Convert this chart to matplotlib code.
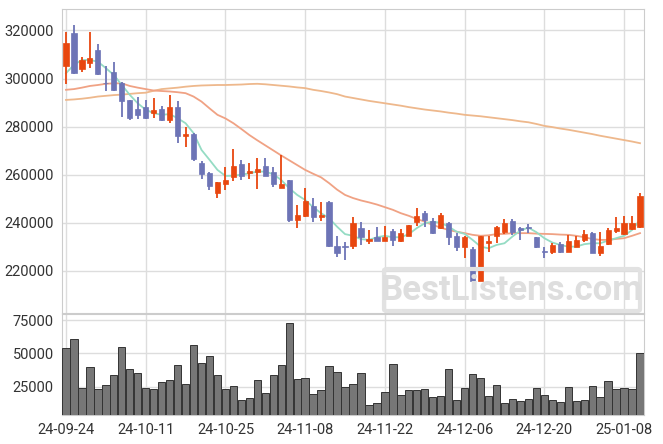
import numpy as np
import matplotlib
matplotlib.use("Agg")
import matplotlib.pyplot as plt
from matplotlib.patches import FancyBboxPatch

plt.rcParams['font.family'] = ['Roboto', 'DejaVu Sans']

DATES = ["24-09-24", "24-10-11", "24-10-25", "24-11-08",
         "24-11-22", "24-12-06", "24-12-20", "25-01-08"]
DATE_POS = [0, 10, 20, 30, 40, 50, 60, 70]

OPEN = [305400, 318800, 304000, 306600, 311900, 298300, 302500, 298300, 291100, 287400,
        288100, 285800, 287400, 282800, 288100, 276300, 277000, 264800, 260600, 252600,
        256200, 259200, 264500, 260600, 261200, 263700, 261200, 254600, 257800, 241200,
        242900, 247000, 242300, 248800, 230400, 230500, 230500, 237800, 232600, 234300,
        232600, 236600, 232600, 234700, 240500, 244000, 240800, 237800, 240100, 234600,
        229900, 229000, 216000, 231800, 234700, 236100, 240800, 237800, 238400, 234000,
        228300, 228000, 231200, 228000, 230100, 232900, 235900, 227600, 231100, 236800,
        235300, 237500, 238200]
HIGH = [319500, 322300, 309100, 319500, 314300, 305000, 306800, 298500, 291100, 292500,
        291100, 292100, 288600, 293100, 290700, 280000, 277300, 265500, 261300, 257100,
        263000, 270600, 266200, 264800, 266900, 266900, 263000, 268200, 258000, 247400,
        254400, 250200, 248600, 249100, 234600, 232200, 242300, 240300, 237000, 238200,
        238800, 237300, 237500, 239100, 246100, 245100, 241900, 244000, 240500, 235900,
        234600, 230100, 234600, 234600, 238600, 241600, 241500, 238400, 239400, 234200,
        230100, 231500, 232200, 235000, 234600, 237000, 236300, 236300, 237800, 242600,
        242900, 242900, 252300]
LOW = [297800, 302000, 302600, 304300, 301500, 294800, 294600, 284200, 282900, 283200,
       283100, 283500, 282500, 281400, 273100, 271400, 265900, 258100, 253700, 250200,
       253700, 257500, 257800, 258300, 254000, 259400, 254800, 254600, 240500, 237800,
       242600, 240500, 240800, 229900, 225700, 224600, 229100, 230800, 231100, 232400,
       232400, 230500, 232200, 234700, 238800, 238400, 235400, 237500, 230800, 228400,
       225300, 216000, 216000, 228000, 231500, 235300, 235000, 232900, 235700, 229400,
       225300, 227100, 227400, 227900, 230000, 232200, 227400, 226200, 230800, 235900,
       235000, 237000, 238000]
CLOSE = [314700, 302200, 307700, 308400, 301800, 298000, 295300, 290800, 283500, 285000,
         283700, 286700, 282800, 288100, 276300, 277000, 266400, 260300, 255100, 256900,
         257800, 263700, 259600, 261700, 262400, 259600, 256300, 256200, 241200, 243300,
         249100, 242600, 243300, 230400, 227600, 230100, 239800, 233900, 233300, 232600,
         234300, 232900, 235700, 239100, 242900, 241200, 235700, 243300, 234300, 230100,
         234000, 216000, 234600, 232500, 238400, 240100, 236100, 237200, 237700, 230100,
         227900, 230800, 228000, 232500, 232900, 235400, 227600, 230400, 237000, 238000,
         240100, 239800, 251200]

MA5 = [302200, 305700, 307700, 307700, 307000, 304300, 301500, 297300, 293200, 289700,
       287000, 285600, 284900, 285200, 283500, 281400, 277300, 270300, 266200, 262000,
       259500, 259600, 260000, 260600, 261300, 261300, 260200, 257800, 254400, 251600,
       249500, 246500, 244000, 241900, 238400, 235300, 234600, 233200, 232900, 234000,
       234600, 234000, 234000, 235300, 237800, 239800, 240500, 240000, 238400, 236300,
       235400, 232900, 230100, 229400, 230800, 231500, 234300, 236800, 238000, 236100,
       233600, 231800, 230800, 230100, 230100, 231100, 231500, 231500, 232600, 233600,
       234600, 237000, 241200]
MA20 = [295300, 295600, 296200, 296900, 297300, 297800, 298000, 298000, 296900, 296200,
        295600, 295000, 294800, 294600, 294300, 293900, 292500, 290400, 287600, 284900,
        283400, 281400, 279000, 276500, 274300, 272200, 270100, 268000, 266000, 264000,
        262000, 260400, 258900, 256500, 253800, 251600, 250300, 249300, 248500, 247600,
        246500, 245400, 244000, 242900, 241600, 240500, 239100, 238000, 237000, 236300,
        235700, 235000, 234600, 234800, 235300, 235400, 235700, 235700, 235700, 235500,
        235400, 235300, 235100, 235000, 234600, 234000, 233300, 232900, 232900, 233300,
        233600, 234600, 235700]
MA60 = [291100, 291300, 291600, 292000, 292500, 292800, 293100, 293300, 293600, 293900,
        294100, 294900, 295600, 295900, 296200, 296600, 296900, 297100, 297200, 297300,
        297300, 297400, 297500, 297700, 297800, 297600, 297300, 297000, 296700, 296300,
        296000, 295300, 294800, 294200, 293500, 292500, 291900, 291300, 290700, 290200,
        289700, 289200, 288700, 288100, 287600, 287100, 286700, 286300, 285800, 285400,
        284900, 284600, 284300, 283900, 283500, 283100, 282700, 282200, 281800, 281100,
        280300, 279800, 279200, 278700, 278100, 277500, 276900, 276200, 275600, 275000,
        274400, 273800, 273100]

VOLUME = [53800, 60500, 23800, 39600, 23000, 26000, 33500, 54500, 38000, 35000,
          23800, 23000, 28300, 29800, 41000, 26800, 56000, 42500, 47800, 33500,
          23000, 25300, 14800, 16300, 29800, 20000, 33500, 41000, 72500, 30500,
          31300, 19300, 22300, 40300, 36000, 24500, 26800, 35300, 11000, 12500,
          21000, 42000, 18800, 22500, 22500, 23000, 17300, 18000, 38300, 15000,
          24000, 34500, 31500, 18000, 26000, 12800, 15800, 14500, 15800, 24000,
          18800, 15000, 13500, 24800, 14300, 15000, 25500, 17300, 29300, 23300,
          23800, 23300, 50300]

UP_COLOR = "#e8470f"
DOWN_COLOR = "#6d74b6"
GRID = "#dddddd"
SPINE = "#cccccc"


def style_axis(ax):
    for s in ax.spines.values():
        s.set_color(SPINE)
    ax.grid(True, color=GRID, linewidth=1)
    ax.set_axisbelow(True)
    ax.tick_params(length=0, labelsize=10.5, colors="#333333", pad=6)
    ax.set_xticks(DATE_POS)
    ax.set_xlim(-0.5, len(CLOSE) - 0.5)


def main():
    fig = plt.figure(figsize=(6.63, 4.44), dpi=100)
    ax = fig.add_axes([62 / 663, 1 - 313 / 444, 582 / 663, 304 / 444])
    axv = fig.add_axes([62 / 663, 1 - 415 / 444, 582 / 663, 101 / 444])

    x = np.arange(len(CLOSE))
    o = np.array(OPEN)
    c = np.array(CLOSE)
    colors = [UP_COLOR if cc >= oo else DOWN_COLOR for oo, cc in zip(o, c)]

    # moving averages
    ax.plot(x, MA60, color="#eeb88c", linewidth=1.3, zorder=2)
    ax.plot(x, MA20, color="#f0a284", linewidth=1.3, zorder=2)
    ax.plot(x, MA5, color="#95dcc4", linewidth=1.3, zorder=2)

    # candles
    ax.vlines(x, LOW, HIGH, colors=colors, linewidth=1.3, zorder=3)
    bottoms = np.minimum(o, c)
    heights = np.maximum(np.abs(c - o), 300)
    ax.bar(x, heights, bottom=bottoms, width=0.65, color=colors,
           edgecolor=colors, linewidth=0.5, zorder=4)

    style_axis(ax)
    ax.set_xticklabels([])
    ax.set_ylim(202500, 328900)
    ax.set_yticks([220000, 240000, 260000, 280000, 300000, 320000])

    # volume
    axv.bar(x, VOLUME, width=0.92, color="#777777", edgecolor="#333333",
            linewidth=0.7, zorder=3)
    style_axis(axv)
    axv.set_xticklabels(DATES)
    axv.set_ylim(3775, 79500)
    axv.set_yticks([25000, 50000, 75000])

    # watermark
    box = FancyBboxPatch((384 / 663, 1 - 311 / 444), 256 / 663, 42 / 444,
                         boxstyle="round,pad=0,rounding_size=0.004",
                         transform=fig.transFigure, facecolor="none",
                         edgecolor="#e2e2e2", linewidth=3, zorder=10)
    fig.patches.append(box)
    fig.text(512 / 663, 1 - 290 / 444, "BestListens.com", fontsize=25,
             fontweight="bold", color="#dedede", ha="center", va="center",
             zorder=11)

    fig.savefig("out.png", dpi=100)


if __name__ == '__main__':
    main()
